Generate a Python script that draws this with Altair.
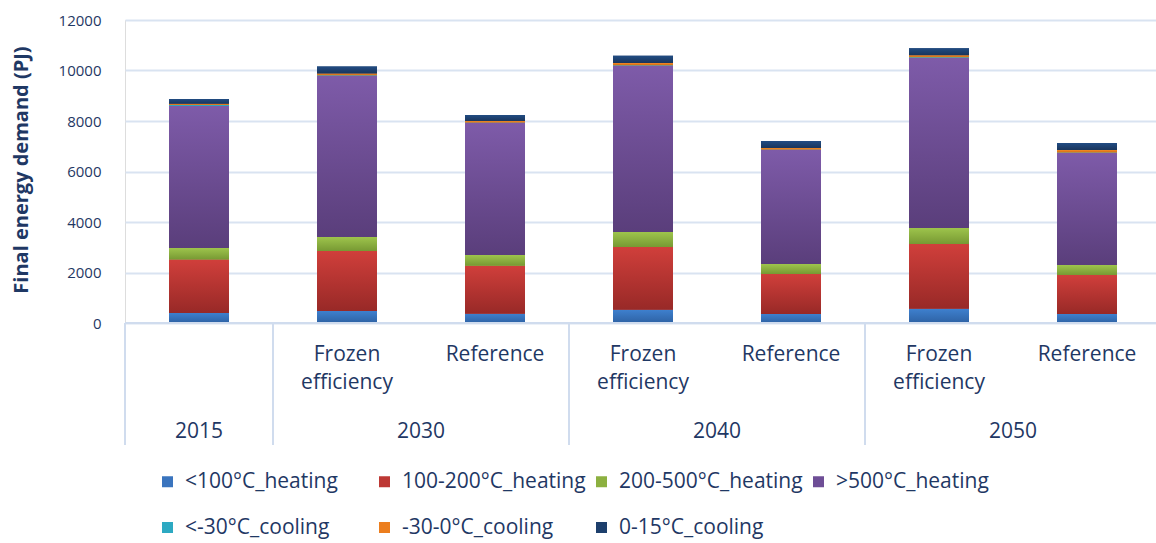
import altair as alt
import pandas as pd

# Category slots along the x axis (year group + scenario)
slot_year = ["2015", "2030", "2030", "2040", "2040", "2050", "2050"]
slot_scenario = ["", "Frozen efficiency", "Reference", "Frozen efficiency",
                 "Reference", "Frozen efficiency", "Reference"]

# Demand components, bottom to top of each stack
series = ["<100°C_heating", "100-200°C_heating", "200-500°C_heating", ">500°C_heating",
          "<-30°C_cooling", "-30-0°C_cooling", "0-15°C_cooling"]

# Final energy demand (PJ) per component, one value per slot
heat_lt100 = [400, 480, 370, 525, 355, 560, 355]
heat_100_200 = [2110, 2370, 1900, 2485, 1585, 2570, 1545]
heat_200_500 = [460, 555, 420, 595, 395, 635, 395]
heat_gt500 = [5620, 6390, 5240, 6585, 4525, 6735, 4440]
cool_lt_m30 = [40, 20, 15, 20, 15, 20, 15]
cool_m30_0 = [55, 65, 55, 90, 55, 85, 105]
cool_0_15 = [185, 275, 240, 280, 280, 280, 275]

y_ticks = [0, 2000, 4000, 6000, 8000, 10000, 12000]

# Flat legend colours and top/bottom gradient stops for the bars
flat_colors = ["#3A74BE", "#BD3834", "#8CB040", "#6E4E96", "#2DA9C2", "#EC7E1E", "#1D3F6C"]
grad_stops = [("#3E80CE", "#2E62A4"), ("#D03F3B", "#982927"), ("#9EC44C", "#779933"),
              ("#7E5BA9", "#5A3E7B"), ("#33B8D0", "#2690A6"), ("#F68C26", "#CF6A12"),
              ("#214C83", "#19355C")]

TEXT = "#1F3864"
FONT = "Open Sans"
W, H = 1031, 303
SLOT_W = 148  # pixel width of one category slot; the last slot runs past the right edge

values = [heat_lt100, heat_100_200, heat_200_500, heat_gt500,
          cool_lt_m30, cool_m30_0, cool_0_15]
rows = []
for s_i, (name, vals) in enumerate(zip(series, values)):
    for slot, v in enumerate(vals):
        rows.append({"slot": slot, "x": slot + 0.5, "series": name, "order": s_i, "value": v})
df = pd.DataFrame(rows)

# Scenario labels under each bar
lab_df = pd.DataFrame({
    "x": [i + 0.5 for i in range(len(slot_scenario))],
    "label": [s.replace(" ", "\n") for s in slot_scenario],
})

# Year groups: centres and separator positions
groups = []
for i, y in enumerate(slot_year):
    if not groups or groups[-1]["year"] != y:
        groups.append({"year": y, "start": i, "end": i + 1})
    else:
        groups[-1]["end"] = i + 1
year_df = pd.DataFrame({"x": [(g["start"] + g["end"]) / 2 for g in groups],
                        "year": [g["year"] for g in groups]})
sep_df = pd.DataFrame({"b": sorted({g["start"] for g in groups} | {g["end"] for g in groups})})

n_slots = len(slot_year)
xscale = alt.Scale(domain=[0, n_slots], range=[0, SLOT_W * n_slots],
                   padding=0, nice=False, zero=False)
yscale = alt.Scale(domain=[0, 12000], nice=False)

base = alt.Chart(df)

flat = base.mark_bar(size=60).encode(
    x=alt.X("x:Q", scale=xscale, axis=None),
    y=alt.Y("value:Q", stack="zero", scale=yscale,
            axis=alt.Axis(values=y_ticks, format="d", title="Final energy demand (PJ)",
                          grid=True, gridColor="#D9E3F1", gridWidth=2,
                          domain=False, ticks=False, labelPadding=24,
                          labelFontSize=15, labelColor=TEXT, labelFont=FONT,
                          titleFont=FONT, titleFontSize=20, titleFontWeight="bold",
                          titleColor=TEXT, titleX=-104, titleY=H / 2 - 2,
                          titleBaseline="middle")),
    color=alt.Color("series:N", sort=series,
                    scale=alt.Scale(domain=series, range=flat_colors),
                    legend=alt.Legend(title=None, orient="none", legendX=32, legendY=451,
                                      direction="horizontal",
                                      columns=4, gridAlign="all", symbolType="square",
                                      symbolSize=121, symbolStrokeWidth=0,
                                      labelFont=FONT, labelFontSize=21, labelColor=TEXT,
                                      labelLimit=400, columnPadding=5, rowPadding=24,
                                      labelOffset=7)),
    order=alt.Order("order:Q", sort="ascending"),
)

stacked = base.transform_stack(
    stack="value", groupby=["slot"], as_=["y0", "y1"],
    sort=[alt.SortField("order", order="ascending")],
)

layers = [flat]
for name, (top, bottom) in zip(series, grad_stops):
    grad = alt.Gradient(gradient="linear", x1=0, y1=0, x2=0, y2=1,
                        stops=[alt.GradientStop(color=top, offset=0),
                               alt.GradientStop(color=bottom, offset=1)])
    layers.append(
        stacked.transform_filter(alt.datum.series == name).mark_bar(size=60, color=grad).encode(
            x=alt.X("x:Q", scale=xscale, axis=None),
            y=alt.Y("y0:Q", scale=yscale),
            y2="y1:Q",
        )
    )

# Table lines of the two-level category axis
axis_line = alt.Chart(pd.DataFrame({"v": [0]})).mark_rule(color="#D0DCEE", strokeWidth=2).encode(
    y=alt.Y("v:Q", scale=yscale),
    x=alt.value(0), x2=alt.value(W),
)
seps = alt.Chart(sep_df).mark_rule(color="#D0DCEE", strokeWidth=2).encode(
    x=alt.X("b:Q", scale=xscale, axis=None),
    y=alt.value(H), y2=alt.value(H + 122),
)

scen_text = alt.Chart(lab_df).mark_text(
    font=FONT, fontSize=21, color=TEXT, baseline="top", lineBreak="\n", lineHeight=28,
).encode(
    x=alt.X("x:Q", scale=xscale, axis=None),
    y=alt.value(H + 21),
    text="label:N",
)
year_text = alt.Chart(year_df).mark_text(
    font=FONT, fontSize=21, color=TEXT, baseline="middle",
).encode(
    x=alt.X("x:Q", scale=xscale, axis=None),
    y=alt.value(H + 109),
    text="year:N",
)

chart = alt.layer(*layers, axis_line, seps, scen_text, year_text).properties(
    width=W, height=H,
    autosize=alt.AutoSizeParams(type="none"),
    padding={"left": 125, "top": 20, "right": 0, "bottom": 220},
).configure_view(stroke=None).configure(background="white")

chart.save("out.html", embed_options={"renderer": "svg", "actions": False})
